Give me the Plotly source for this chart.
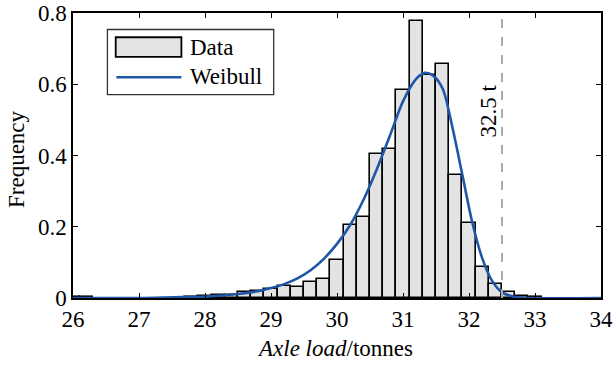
import plotly.graph_objects as go

# Histogram bins (centres, tonnes) and relative frequencies
bin_centres = [26.0, 26.2, 27.8,
               28.0, 28.2, 28.4, 28.6, 28.8, 29.0, 29.2, 29.4, 29.6, 29.8,
               30.0, 30.2, 30.4, 30.6, 30.8, 31.0, 31.2, 31.4, 31.6, 31.8,
               32.0, 32.2, 32.4, 32.6, 32.8, 33.0]
bin_freq = [0.003, 0.004, 0.002,
            0.006, 0.009, 0.009, 0.017, 0.019, 0.026, 0.035, 0.030, 0.045, 0.054,
            0.108, 0.204, 0.227, 0.403, 0.417, 0.583, 0.778, 0.625, 0.656, 0.344,
            0.210, 0.087, 0.040, 0.016, 0.006, 0.002]
bin_width = 0.2

# Weibull fit curve
fit_x = [26.0, 27.0, 27.5, 28.0, 28.5, 28.8, 29.0, 29.2, 29.4, 29.6, 29.8,
         30.0, 30.2, 30.4, 30.6, 30.8, 31.0, 31.2, 31.33, 31.45, 31.6, 31.75,
         31.9, 32.05, 32.2, 32.35, 32.5, 32.7, 32.9, 34.0]
fit_y = [0.0, 0.0, 0.002, 0.004, 0.011, 0.019, 0.028, 0.039, 0.055, 0.078, 0.110,
         0.152, 0.205, 0.275, 0.360, 0.455, 0.552, 0.615, 0.632, 0.625, 0.588, 0.478,
         0.345, 0.212, 0.112, 0.048, 0.016, 0.003, 0.0, 0.0]

limit_load = 32.5
limit_label = "32.5 t"
legend_labels = ["Data", "Weibull"]

x_ticks = [26, 27, 28, 29, 30, 31, 32, 33, 34]
y_ticks = [0, 0.2, 0.4, 0.6, 0.8]

FONT = "Times New Roman, Liberation Serif, serif"
FS = 23
BAR_FILL = "#e3e3e3"
CURVE = "#1f56a8"

fig = go.Figure()
fig.add_trace(go.Bar(
    x=bin_centres, y=bin_freq, width=bin_width, name=legend_labels[0],
    marker=dict(color=BAR_FILL, line=dict(color="black", width=1.6)),
))
fig.add_trace(go.Scatter(
    x=fit_x, y=fit_y, mode="lines", name=legend_labels[1],
    line=dict(color=CURVE, width=2.6, shape="spline", smoothing=0.8),
))

fig.add_shape(type="line", x0=limit_load, x1=limit_load, y0=0, y1=0.8,
              xref="x", yref="y", line=dict(color="#aaaaaa", width=2, dash="dash"))
fig.add_annotation(x=limit_load - 0.19, y=0.525, text=limit_label, textangle=-90,
                   showarrow=False, xref="x", yref="y",
                   font=dict(family=FONT, size=FS, color="black"))

# axis titles
fig.add_annotation(x=0.497, y=-0.178, xref="paper", yref="paper", showarrow=False,
                   text="<i>Axle load</i>/tonnes", xanchor="center", yanchor="middle",
                   font=dict(family=FONT, size=FS, color="black"))
fig.add_annotation(x=-0.107, y=0.486, xref="paper", yref="paper", showarrow=False,
                   text="Frequency", textangle=-90, xanchor="center", yanchor="middle",
                   font=dict(family=FONT, size=FS, color="black"))

# legend box (drawn to match the wide swatches of the reference)
fig.add_shape(type="rect", xref="paper", yref="paper", x0=0.0652, x1=0.3801,
              y0=0.7138, y1=0.9421, fillcolor="white",
              line=dict(color="#333333", width=1.3), layer="above")
fig.add_shape(type="rect", xref="paper", yref="paper", x0=0.0809, x1=0.2053,
              y0=0.8462, y1=0.9150, fillcolor=BAR_FILL,
              line=dict(color="black", width=1.8), layer="above")
fig.add_shape(type="line", xref="paper", yref="paper", x0=0.0822, x1=0.2053,
              y0=0.7746, y1=0.7746, line=dict(color=CURVE, width=2.6), layer="above")
for label, ly in zip(legend_labels, [0.8806, 0.777]):
    fig.add_annotation(x=0.2178, y=ly, xref="paper", yref="paper", showarrow=False,
                       text=label, xanchor="left", yanchor="middle",
                       font=dict(family=FONT, size=FS, color="black"))

axis_common = dict(showline=True, linecolor="black", linewidth=1.5, mirror="ticks",
                   ticks="inside", ticklen=5, tickwidth=1.3, tickcolor="black",
                   showgrid=False, zeroline=False, layer="above traces",
                   automargin=False,
                   tickfont=dict(family=FONT, size=FS, color="black"))

fig.update_xaxes(range=[26, 34], tickvals=x_ticks, **axis_common)
fig.update_yaxes(range=[0, 0.8], tickvals=y_ticks, **axis_common)

fig.update_layout(
    width=614, height=367,
    margin=dict(l=73, r=13, t=13, b=69),
    plot_bgcolor="white", paper_bgcolor="white",
    bargap=0,
    showlegend=False,
    font=dict(family=FONT, size=FS, color="black"),
)

fig.write_html("out.html", config={"displayModeBar": False},
               post_script="document.body.style.margin='0';document.body.style.padding='0';")
